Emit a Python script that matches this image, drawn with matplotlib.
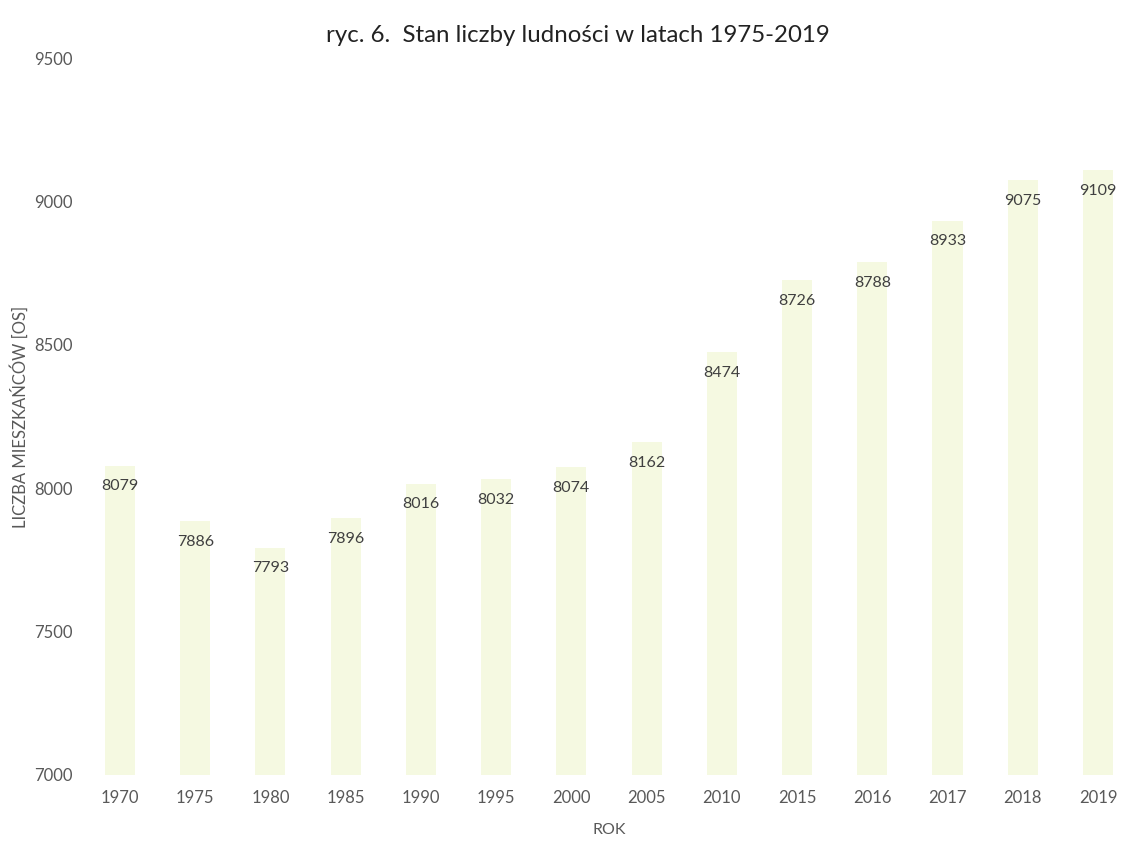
import matplotlib
matplotlib.use("Agg")
from matplotlib import pyplot as plt

# dane z wykresu
lata = ["1970", "1975", "1980", "1985", "1990", "1995", "2000", "2005",
        "2010", "2015", "2016", "2017", "2018", "2019"]
ludnosc = [8079, 7886, 7793, 7896, 8016, 8032, 8074, 8162,
           8474, 8726, 8788, 8933, 9075, 9109]
y_ticks = [7000, 7500, 8000, 8500, 9000, 9500]

plt.rcParams['font.family'] = ['Lato', 'DejaVu Sans']

fig = plt.figure(figsize=(11.27, 8.41), dpi=100)
ax = fig.add_axes([0.0731, 0.0785, 0.9345, 0.8525])

x = range(len(lata))
bars = ax.bar(x, ludnosc, width=0.4, color='#f5f9e1', edgecolor='none')

# etykiety wartosci wewnatrz slupkow, przy ich szczycie
for b, v in zip(bars, ludnosc):
    ax.annotate(str(v), (b.get_x() + b.get_width() / 2, v),
                xytext=(0, -15), textcoords='offset points',
                ha='center', va='center', fontsize=11.5, color='#404040')

ax.set_ylim(7000, 9500)
ax.set_xlim(-0.5, len(lata) - 0.5)
ax.set_yticks(y_ticks)
ax.set_xticks(list(x))
ax.set_xticklabels(lata)
ax.tick_params(axis='both', length=0, labelsize=12, labelcolor='#595959')
ax.tick_params(axis='x', pad=11)
ax.tick_params(axis='y', pad=7)
for s in ax.spines.values():
    s.set_visible(False)

ax.set_xlabel("ROK", fontsize=11.5, color='#595959', labelpad=12)
ax.set_ylabel("LICZBA MIESZKAŃCÓW [OS]", fontsize=12, color='#595959', labelpad=4)

fig.suptitle("ryc. 6.  Stan liczby ludności w latach 1975-2019",
             x=0.513, y=0.97, fontsize=17.3, color='#222222')

fig.savefig("out.png", dpi=100)
